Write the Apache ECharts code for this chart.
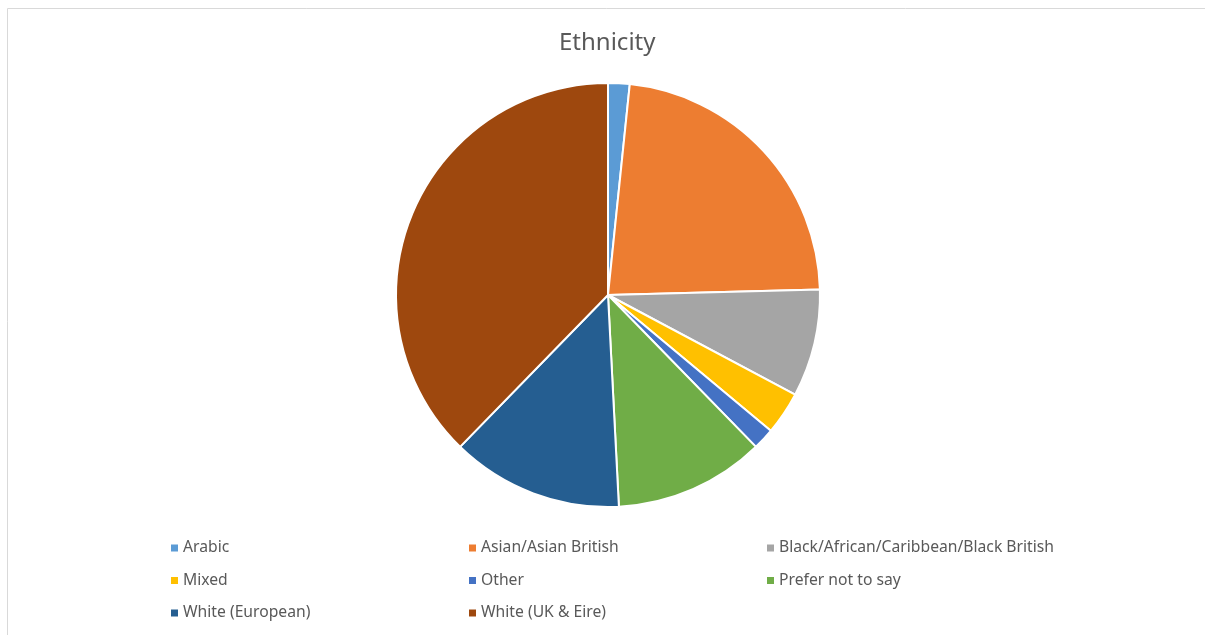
<!DOCTYPE html>
<html><head><meta charset="utf-8">
<script src="https://cdn.jsdelivr.net/npm/echarts@6/dist/echarts.min.js"></script>
<style>html,body{margin:0;padding:0;background:#fff}#c{width:1205px;height:635px}</style>
</head><body><div id="c"></div>
<script>
const categories = ["Arabic","Asian/Asian British","Black/African/Caribbean/Black British","Mixed","Other","Prefer not to say","White (European)","White (UK & Eire)"];
const values = [1,14,5,2,1,7,8,23];
const colors = ["#5B9BD5","#ED7D31","#A5A5A5","#FFC000","#4472C4","#70AD47","#255E91","#9E480E"];
const legendCols = [
  ["Arabic","Mixed","White (European)"],
  ["Asian/Asian British","Other","White (UK & Eire)"],
  ["Black/African/Caribbean/Black British","Prefer not to say"]
];
const legendX = [166, 464, 762];
const chart = echarts.init(document.getElementById('c'));
const textStyle = {color:'#595959', fontSize:15.7, fontFamily:'Noto Sans', height:18, lineHeight:18};
chart.setOption({
  animation:false,
  graphic:[
    {type:'line', shape:{x1:7.5,y1:8.5,x2:1205,y2:8.5}, style:{stroke:'#d9d9d9',lineWidth:1}},
    {type:'line', shape:{x1:7.5,y1:8.5,x2:7.5,y2:635}, style:{stroke:'#d9d9d9',lineWidth:1}}
  ],
  title:{text:'Ethnicity', left:554, top:26, textStyle:{color:'#595959', fontSize:24, fontWeight:'normal', fontFamily:'Noto Sans'}},
  legend: legendCols.map((col,i)=>({
    data:col, orient:'vertical', left:legendX[i], top:534, itemGap:14.5,
    icon:'rect', itemWidth:7, itemHeight:7, itemStyle:{borderWidth:0},
    textStyle:textStyle, selectedMode:false
  })),
  color:colors,
  series:[{
    type:'pie', center:[608,295], radius:212, startAngle:90, clockwise:true,
    label:{show:false}, labelLine:{show:false},
    itemStyle:{borderColor:'#fff', borderWidth:2},
    emphasis:{disabled:true},
    data:categories.map((c,i)=>({name:c, value:values[i]}))
  }]
});
</script></body></html>
